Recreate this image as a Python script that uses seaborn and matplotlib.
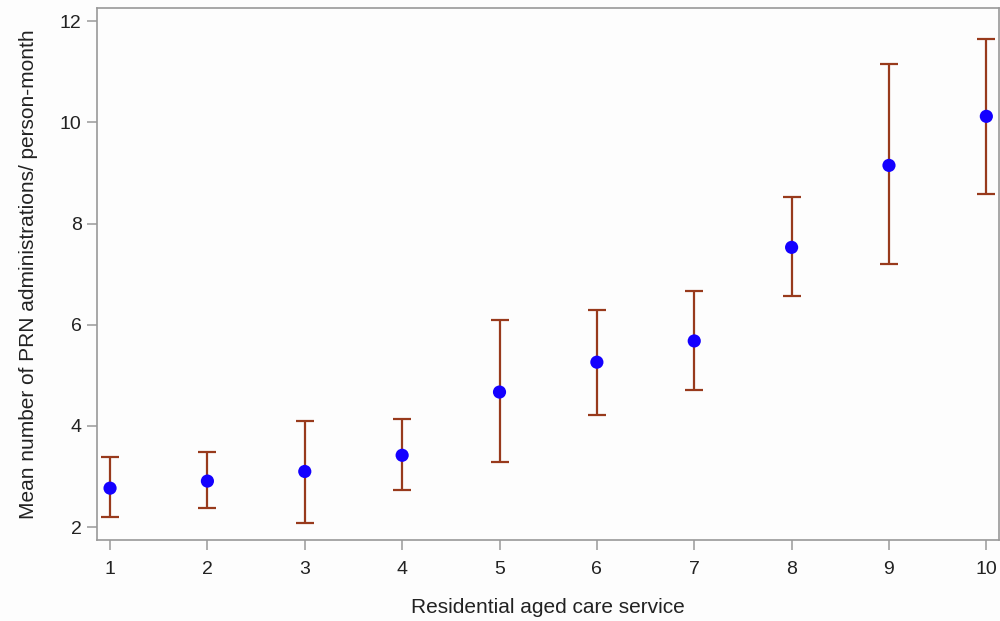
import numpy as np
import pandas as pd
import matplotlib
matplotlib.use("Agg")
import matplotlib.pyplot as plt
import seaborn as sns

# valores
services = [1, 2, 3, 4, 5, 6, 7, 8, 9, 10]
means = [2.77, 2.91, 3.10, 3.42, 4.67, 5.26, 5.68, 7.53, 9.15, 10.12]
lower = [2.20, 2.38, 2.08, 2.73, 3.28, 4.21, 4.71, 6.57, 7.20, 8.58]
upper = [3.38, 3.48, 4.09, 4.13, 6.09, 6.29, 6.66, 8.52, 11.15, 11.64]

df = pd.DataFrame({"service": services, "mean": means, "lower": lower, "upper": upper})

sns.set_style("white")
plt.rcParams["font.family"] = ["Liberation Sans", "DejaVu Sans"]

fig = plt.figure(figsize=(10, 6.21), dpi=100)
fig.patch.set_facecolor("#fdfdfd")
ax = fig.add_axes([0.097, 0.130, 0.902, 0.857])
ax.set_facecolor("#fdfdfd")

yerr = [df["mean"] - df["lower"], df["upper"] - df["mean"]]
ax.errorbar(df["service"], df["mean"], yerr=yerr, fmt="none",
            ecolor="#983a1c", elinewidth=1.6, capsize=6.5, capthick=1.6, zorder=2)
sns.scatterplot(data=df, x="service", y="mean", ax=ax, color="#1400ff",
                s=90, edgecolor="none", zorder=3)

ax.set_xlim(0.866, 10.13)
ax.set_ylim(1.74, 12.26)
ax.set_xticks(services)
ax.set_yticks([2, 4, 6, 8, 10, 12])
ax.set_xlabel("Residential aged care service", fontsize=15, color="#222222", labelpad=14)
ax.set_ylabel("Mean number of PRN administrations/ person-month", fontsize=15,
              color="#222222", labelpad=16)

for s in ax.spines.values():
    s.set_color("#999999")
    s.set_linewidth(1.2)
ax.tick_params(axis="both", direction="out", length=7, width=1.1, color="#999999",
               labelsize=14, labelcolor="#222222", left=True, bottom=True)
ax.tick_params(axis="x", pad=8)
ax.tick_params(axis="y", pad=4)

fig.savefig("out.png", dpi=100, facecolor=fig.get_facecolor())
